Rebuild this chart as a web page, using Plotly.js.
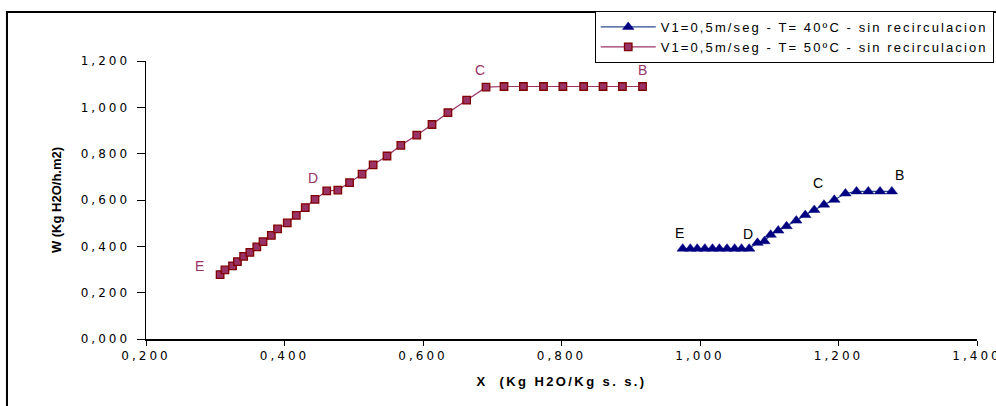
<!DOCTYPE html>
<html>
<head>
<meta charset="utf-8">
<script src="https://cdn.plot.ly/plotly-3.0.1.min.js"></script>
<style>
html,body{margin:0;padding:0;background:#fff;overflow:hidden}
#chart{width:996px;height:406px}
.xtick text,.ytick text{letter-spacing:3px}
.legendtext{letter-spacing:2.1px}
.g-xtitle text{letter-spacing:2.4px}
</style>
</head>
<body>
<div id="chart"></div>
<script>
// Series: T = 40 ºC (blue triangles)
const x40 = [0.975,0.986,0.996,1.007,1.018,1.028,1.039,1.050,1.060,1.071,1.083,1.093,1.102,1.113,1.125,1.139,1.152,1.165,1.179,1.194,1.210,1.226,1.243,1.260,1.277];
const w40 = [0.390,0.390,0.390,0.390,0.390,0.390,0.390,0.390,0.390,0.390,0.415,0.422,0.450,0.468,0.487,0.511,0.535,0.557,0.580,0.601,0.628,0.637,0.637,0.637,0.637];
// Series: T = 50 ºC (maroon squares)
const x50 = [0.307,0.314,0.325,0.332,0.341,0.350,0.360,0.369,0.381,0.390,0.404,0.417,0.430,0.444,0.461,0.477,0.494,0.512,0.528,0.548,0.568,0.591,0.613,0.636,0.663,0.691,0.717,0.745,0.774,0.802,0.832,0.860,0.888,0.917];
const w50 = [0.278,0.298,0.316,0.334,0.357,0.374,0.398,0.420,0.447,0.475,0.501,0.534,0.567,0.603,0.639,0.643,0.675,0.712,0.752,0.790,0.836,0.880,0.926,0.977,1.031,1.087,1.090,1.090,1.090,1.090,1.090,1.090,1.090,1.090];
const seriesNames = ["V1=0,5m/seg - T= 40ºC - sin recirculacion","V1=0,5m/seg - T= 50ºC - sin recirculacion"];
// Point labels: [letter, point index, dx, dy]
const labels40 = [["E",0,-3,16],["D",9,-1,15],["C",19,-16,17],["B",24,8,16]];
const labels50 = [["E",0,-21,9],["D",13,-2,21],["C",25,-6,17],["B",33,0,16]];
const xTicks = [0.2,0.4,0.6,0.8,1.0,1.2,1.4];
const yTicks = [0,0.2,0.4,0.6,0.8,1.0,1.2];
const fmt = v => v.toFixed(3).replace('.', ',');

const blue = '#000080', maroon = '#993366';
const traces = [
  {x:x40, y:w40, name:seriesNames[0], type:'scatter', mode:'lines+markers',
   line:{color:'#2a4d8a', width:1.2},
   marker:{symbol:'triangle-up', size:10, color:blue, line:{color:blue,width:0.5}}},
  {x:x50, y:w50, name:seriesNames[1], type:'scatter', mode:'lines+markers',
   line:{color:maroon, width:1.2},
   marker:{symbol:'square', size:7.5, color:maroon, line:{color:'#800000',width:1.3}}}
];
const sans = 'Arial, Liberation Sans, sans-serif';
const ann = [];
labels40.forEach(([t,i,dx,dy]) => ann.push({x:x40[i], y:w40[i], text:t, showarrow:false, xshift:dx, yshift:dy, font:{family:sans, size:14, color:'#000'}}));
labels50.forEach(([t,i,dx,dy]) => ann.push({x:x50[i], y:w50[i], text:t, showarrow:false, xshift:dx, yshift:dy, font:{family:sans, size:14, color:maroon}}));

const tickFont = {family:'DejaVu Sans, sans-serif', size:12, color:'#000'};
const layout = {
  width:996, height:406,
  margin:{l:146, r:19, t:61, b:67, autoexpand:false},
  paper_bgcolor:'#fff', plot_bgcolor:'rgba(0,0,0,0)',
  font:{family:sans, size:13, color:'#000'},
  showlegend:true,
  legend:{x:0.540, y:1.180, xanchor:'left', yanchor:'top', bordercolor:'#000', borderwidth:1,
          bgcolor:'#fff', font:{family:sans, size:13, color:'#000'},
          tracegroupgap:0, itemwidth:55},
  xaxis:{range:[0.2,1.4], tickvals:xTicks, ticktext:xTicks.map(fmt), showgrid:false, zeroline:false,
         showline:true, linecolor:'#000', linewidth:1.5, ticks:'outside', ticklen:5, tickcolor:'#000',
         tickfont:tickFont, ticklabeloverflow:'allow',
         title:{text:'<b>X&nbsp; (Kg H2O/Kg s. s.)</b>', font:{family:sans, size:13, color:'#000'}, standoff:15}},
  yaxis:{range:[0,1.2], tickvals:yTicks, ticktext:yTicks.map(fmt), showgrid:false, zeroline:false,
         showline:true, linecolor:'#000', linewidth:1.5, ticks:'outside', ticklen:8, tickcolor:'#000',
         tickfont:tickFont, ticklabelstandoff:4, ticklabeloverflow:'allow',
         title:{text:'<b>W (Kg H2O/h.m2)</b>', font:{family:sans, size:13, color:'#000'}, standoff:16}},
  annotations:ann,
  shapes:[{type:'rect', xref:'paper', yref:'paper', x0:-0.1673, x1:1.05, y0:-0.35, y1:1.1763,
           line:{color:'#000', width:2}, fillcolor:'rgba(0,0,0,0)', layer:'below'}]
};
Plotly.newPlot('chart', traces, layout, {displayModeBar:false, staticPlot:true});
</script>
</body>
</html>
